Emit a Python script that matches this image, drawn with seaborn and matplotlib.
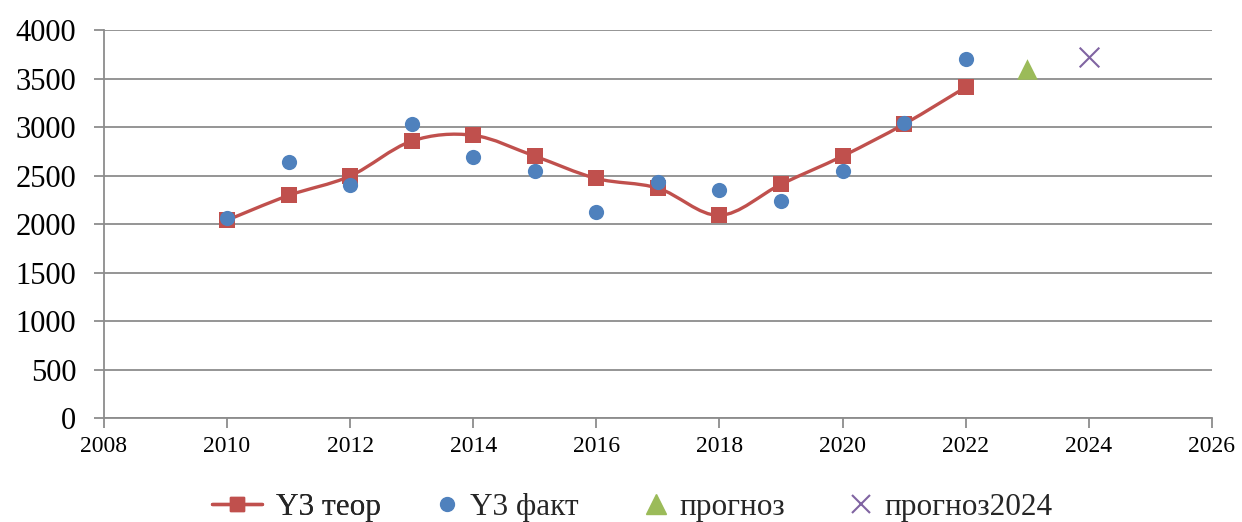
import numpy as np
import matplotlib.pyplot as plt
import seaborn as sns
from matplotlib.path import Path
from matplotlib.patches import PathPatch
from matplotlib.lines import Line2D

years = [2010, 2011, 2012, 2013, 2014, 2015, 2016, 2017, 2018, 2019, 2020, 2021, 2022]
y3_teor = [2040, 2295, 2495, 2855, 2915, 2700, 2470, 2370, 2090, 2410, 2700, 3030, 3410]
y3_fakt = [2060, 2640, 2400, 3035, 2690, 2545, 2120, 2435, 2350, 2240, 2550, 3040, 3700]
prognoz_year = [2023]
prognoz = [3600]
prognoz2024_year = [2024]
prognoz2024 = [3720]

RED = "#C0504D"
BLUE = "#4F81BD"
GREEN = "#9BBB59"
PURPLE = "#8064A2"
GRID = "#8C8C8C"

sns.set_theme(style="white")
plt.rcParams["font.family"] = ["Liberation Serif", "DejaVu Serif"]


def smooth_path(x, y):
    """Excel-like smoothed line: Catmull-Rom as cubic Bezier segments."""
    pts = np.column_stack([x, y]).astype(float)
    verts = [pts[0]]
    codes = [Path.MOVETO]
    n = len(pts)
    for i in range(n - 1):
        p0 = pts[i - 1] if i > 0 else pts[i]
        p1, p2 = pts[i], pts[i + 1]
        p3 = pts[i + 2] if i + 2 < n else pts[i + 1]
        verts += [p1 + (p2 - p0) / 6, p2 - (p3 - p1) / 6, p2]
        codes += [Path.CURVE4] * 3
    return Path(verts, codes)


fig = plt.figure(figsize=(12.42, 5.22), dpi=100)
ax = fig.add_axes([0.0837, 0.199, 0.892, 0.7435])

ax.add_patch(PathPatch(smooth_path(years, y3_teor), facecolor="none",
                       edgecolor=RED, linewidth=2.4, zorder=3))
sns.scatterplot(x=years, y=y3_teor, ax=ax, marker="s", s=120, color=RED,
                edgecolor=RED, linewidth=0, zorder=4)
sns.scatterplot(x=years, y=y3_fakt, ax=ax, marker="o", s=120, color=BLUE,
                edgecolor=BLUE, linewidth=0, zorder=5)
sns.scatterplot(x=prognoz_year, y=prognoz, ax=ax, marker="^", s=220, color=GREEN,
                edgecolor=GREEN, linewidth=0, zorder=5)
sns.scatterplot(x=prognoz2024_year, y=prognoz2024, ax=ax, marker="x", s=200,
                color=PURPLE, linewidth=1.5, zorder=5)

ax.set_xlim(2008, 2026)
ax.set_ylim(0, 4000)
ax.set_xticks(range(2008, 2027, 2))
ax.set_yticks(range(0, 4001, 500))
ax.yaxis.grid(True, color=GRID, linewidth=1.3)
ax.set_axisbelow(True)
for side in ("top", "right"):
    ax.spines[side].set_visible(False)
for side in ("left", "bottom"):
    ax.spines[side].set_color(GRID)
    ax.spines[side].set_linewidth(1.3)
ax.tick_params(axis="y", labelsize=22, length=7, width=1.3, color=GRID, direction="out", left=True, pad=13)
ax.tick_params(axis="x", labelsize=17, length=7, width=1.3, color=GRID, direction="out", bottom=True, pad=6)
for lab in ax.get_yticklabels() + ax.get_xticklabels():
    lab.set_color("black")

# legend: the line entry and the marker-only entries use different handle widths
line_handle = [Line2D([], [], color=RED, linewidth=2.4, marker="s", markersize=10, label="Y3 теор")]
marker_handles = [
    Line2D([], [], color=BLUE, linestyle="none", marker="o", markersize=10, label="Y3 факт"),
    Line2D([], [], color=GREEN, linestyle="none", marker="^", markersize=14, label="прогноз"),
    Line2D([], [], color=PURPLE, linestyle="none", marker="x", markersize=13,
           markeredgewidth=1.5, label="прогноз2024"),
]
leg1 = fig.legend(handles=line_handle, loc="center left", bbox_to_anchor=(212 / 1242, 0.027),
                  frameon=False, fontsize=22.5, handlelength=1.6, handletextpad=0.45,
                  borderpad=0, borderaxespad=0)
fig.add_artist(leg1)
fig.legend(handles=marker_handles, loc="center left", bbox_to_anchor=(436 / 1242, 0.027), ncol=3,
           frameon=False, fontsize=22.5, handlelength=0.7, handletextpad=0.4,
           columnspacing=2.1, borderpad=0, borderaxespad=0)

fig.savefig("out.png", dpi=100)
